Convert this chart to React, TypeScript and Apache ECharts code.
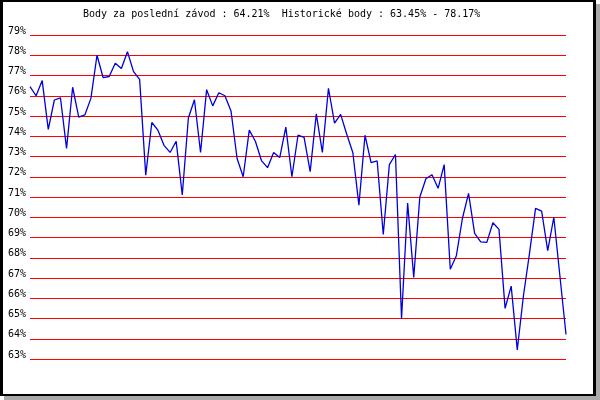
import React, { useEffect, useRef } from "react";
import * as echarts from "echarts";

const TITLE = "Body za poslední závod : 64.21%\u00a0 Historické body : 63.45% - 78.17%";

const Y_MIN = 63;
const Y_MAX = 79;
const Y_STEP = 1;

const points: number[] = [
  76.45, 76.0, 76.75, 74.34, 75.79, 75.9, 73.4, 76.42, 74.95, 75.05,
  75.87, 78.0, 76.9, 76.95, 77.6, 77.35, 78.17, 77.19, 76.81, 72.08,
  74.68, 74.3, 73.55, 73.2, 73.75, 71.1, 74.9, 75.8, 73.2, 76.3,
  75.5, 76.15, 76.0, 75.25, 72.9, 72.0, 74.3, 73.75, 72.8, 72.45,
  73.2, 72.95, 74.45, 72.0, 74.05, 73.95, 72.25, 75.1, 73.2, 76.37,
  74.65, 75.08, 74.1, 73.2, 70.6, 74.05, 72.7, 72.78, 69.15, 72.6,
  73.1, 65.0, 70.7, 67.03, 71.0, 71.9, 72.1, 71.43, 72.6, 67.43,
  68.1, 69.95, 71.18, 69.2, 68.78, 68.76, 69.73, 69.4, 65.5, 66.6,
  63.45, 66.1, 68.2, 70.44, 70.3, 68.35, 70.0, 67.1, 64.21,
];

const races: string[] = points.map((_, i) => String(i + 1));

export default function App() {
  const ref = useRef<HTMLDivElement>(null);

  useEffect(() => {
    if (!ref.current) return;
    const chart = echarts.init(ref.current, null, { renderer: "svg" });
    chart.setOption({
      animation: false,
      graphic: [
        {
          type: "text",
          left: 83,
          top: 8,
          style: {
            text: TITLE,
            fill: "#000",
            font: '10px "DejaVu Sans Mono", monospace',
          },
        },
      ],
      grid: { left: 30, right: 34, top: 35, bottom: 41 },
      xAxis: {
        type: "category",
        data: races,
        boundaryGap: false,
        axisLine: { show: false },
        axisTick: { show: false },
        axisLabel: { show: false },
        splitLine: { show: false },
      },
      yAxis: {
        type: "value",
        min: Y_MIN,
        max: Y_MAX,
        interval: Y_STEP,
        axisLine: { show: false },
        axisTick: { show: false },
        axisLabel: {
          formatter: "{value}%",
          margin: 4,
          color: "#000",
          fontFamily: '"DejaVu Sans Mono", monospace',
          fontSize: 10,
          verticalAlign: "bottom",
        },
        splitLine: { show: true, lineStyle: { color: "#ff0000", width: 1 } },
      },
      series: [
        {
          type: "line",
          data: points,
          symbol: "none",
          lineStyle: { color: "#0000dd", width: 1.3 },
        },
      ],
    });
    return () => chart.dispose();
  }, []);

  return (
    <div style={{ position: "fixed", left: 0, top: 0, width: 600, height: 400 }}>
      <div
        style={{
          position: "absolute",
          left: 0,
          top: 0,
          width: 596,
          height: 396,
          boxSizing: "border-box",
          borderTop: "2px solid #000",
          borderBottom: "2px solid #000",
          borderLeft: "3px solid #000",
          borderRight: "3px solid #000",
          background: "#fff",
          boxShadow: "4px 4px 0 #a9a9a9",
        }}
      />
      <div ref={ref} style={{ position: "absolute", left: 0, top: 0, width: 600, height: 400 }} />
    </div>
  );
}
